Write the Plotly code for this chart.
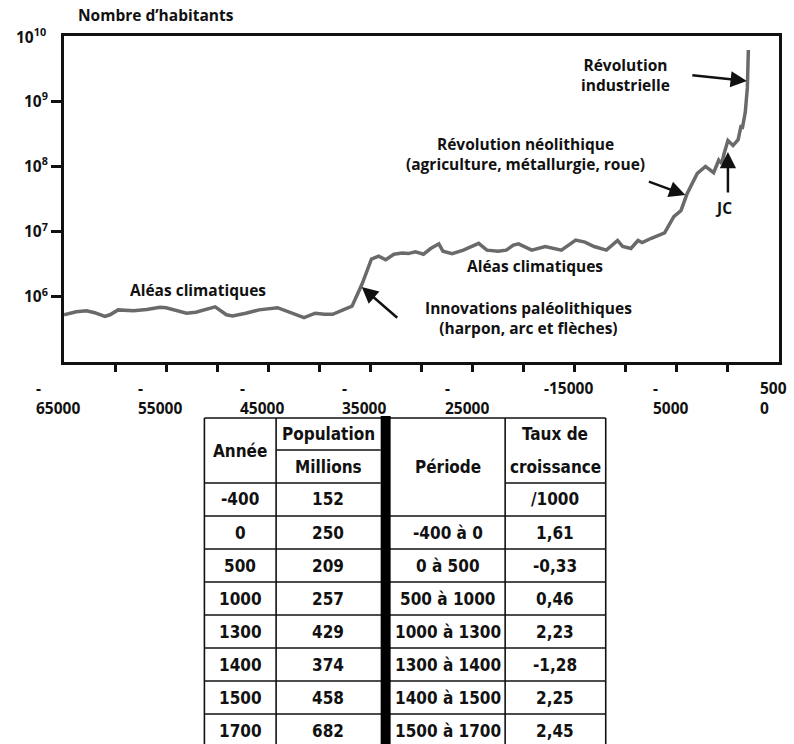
import plotly.graph_objects as go

# ---- Population curve: prehistoric estimates (year, inhabitants) ----
early_years = [-65000, -63800, -62800, -62000, -61000, -60500, -59700, -58200,
               -56900, -55600, -55000, -54000, -53000, -52100, -51100, -50200,
               -49100, -48500, -47200, -45900, -44100, -43300, -42600, -41500,
               -40400, -39500, -38700, -37800, -36800, -35800, -34900, -34200,
               -33500, -32700, -31900, -31300, -30600, -29800, -29100, -28300,
               -27900, -27000, -25900, -24400, -23600, -22500, -21700, -21000,
               -20500, -19200, -17900, -16300, -14900, -14000, -13100, -11900,
               -10800, -10300, -9500, -8800, -8400, -7500, -6200, -5300,
               -4600, -4000, -3000, -2200, -1400, -900, -600]
early_pop = [5.3e5, 5.9e5, 6.1e5, 5.7e5, 5.0e5, 5.3e5, 6.3e5, 6.1e5,
             6.4e5, 6.9e5, 6.8e5, 6.1e5, 5.6e5, 5.8e5, 6.4e5, 7.0e5,
             5.3e5, 5.1e5, 5.6e5, 6.3e5, 6.8e5, 6.1e5, 5.6e5, 4.8e5,
             5.6e5, 5.4e5, 5.4e5, 6.1e5, 7.2e5, 1.6e6, 3.8e6, 4.2e6,
             3.7e6, 4.5e6, 4.7e6, 4.6e6, 4.9e6, 4.5e6, 5.5e6, 6.5e6,
             5.0e6, 4.6e6, 5.2e6, 6.6e6, 5.2e6, 5.0e6, 5.2e6, 6.2e6,
             6.5e6, 5.2e6, 5.9e6, 5.2e6, 7.4e6, 6.9e6, 5.9e6, 5.2e6,
             7.3e6, 5.9e6, 5.5e6, 7.3e6, 6.8e6, 7.9e6, 9.6e6, 1.7e7,
             2.1e7, 3.8e7, 7.8e7, 1.0e8, 8.0e7, 1.25e8, 1.1e8]

# ---- Historical table ----
table_years = [-400, 0, 500, 1000, 1300, 1400, 1500, 1700]
table_pop_millions = [152, 250, 209, 257, 429, 374, 458, 682]
growth_rates = [None, 1.61, -0.33, 0.46, 2.23, -1.28, 2.25, 2.45]

# ---- Industrial era ----
recent_years = [1900, 2000]
recent_pop = [1.6e9, 6.1e9]

curve_years = early_years + table_years + recent_years
curve_pop = early_pop + [m * 1e6 for m in table_pop_millions] + recent_pop

# ---- Axes ----
x_tick_values = list(range(-60000, 1, 5000))
x_label_values = [-65000, -55000, -45000, -35000, -25000, -15000, -5000, 5000]
x_label_texts = ["-<br>65000", "-<br>55000", "-<br>45000", "-<br>35000",
                 "-<br>25000", "-15000", "-<br>5000", "500<br>0"]
y_tick_values = [1e6, 1e7, 1e8, 1e9]
y_tick_texts = ["10<sup>6</sup>", "10<sup>7</sup>", "10<sup>8</sup>", "10<sup>9</sup>"]

W, H = 794, 744
L, R, T, B = 64, 782, 36, 362


def px(x):
    return (x - L) / (R - L)


def py(y):
    return (B - y) / (B - T)


LABEL_FONT = dict(family="Open Sans", size=15.5, color="#111111", weight=700)
TABLE_FONT = dict(family="DejaVu Sans Condensed, DejaVu Sans", size=17,
                  color="#111111", weight="bold")

fig = go.Figure()
fig.add_trace(go.Scatter(
    x=curve_years, y=curve_pop, mode="lines",
    line=dict(color="#6a6a6a", width=3.5),
    showlegend=False, hoverinfo="skip",
))

annotations = []
shapes = []

# Title of the y axis
annotations.append(dict(text="Nombre d’habitants", xref="paper", yref="paper",
                        x=px(76), y=py(15), xanchor="left", yanchor="middle",
                        showarrow=False, font=LABEL_FONT))
# Top decade label (no tick on the frame corner)
annotations.append(dict(text="10<sup>10</sup>", xref="paper", yref="paper",
                        x=px(48), y=py(36), xanchor="right", yanchor="middle",
                        showarrow=False, font=LABEL_FONT))

# Wrapped x labels
for v, t in zip(x_label_values, x_label_texts):
    annotations.append(dict(text=t, xref="x", yref="paper", x=v, y=py(375),
                            xanchor="center", yanchor="top", align="left",
                            xshift=-6, showarrow=False, font=LABEL_FONT))

# Text notes on the chart
notes = [
    ("Aléas climatiques", 199, 290),
    ("Aléas climatiques", 537, 266),
    ("Innovations paléolithiques<br>(harpon, arc et flèches)", 530, 318),
    ("Révolution néolithique<br>(agriculture, métallurgie, roue)", 527, 154),
    ("Révolution<br>industrielle", 628, 75),
    ("JC", 726, 208),
]
for text, x, y in notes:
    annotations.append(dict(text=text, xref="paper", yref="paper", x=px(x), y=py(y),
                            xanchor="center", yanchor="middle", showarrow=False,
                            font=LABEL_FONT))

# Arrows pointing at the curve (head in data units, tail offset in pixels)
arrows = [
    (1850, 9.31, -56, -6),
    (-4166, 7.56, -38, -14),
    (0, 8.22, 0, 42),
    (-35850, 6.15, 37, 32),
]
for x, y, ax, ay in arrows:
    annotations.append(dict(text="", x=x, y=y, xref="x", yref="y", ax=ax, ay=ay,
                            showarrow=True, arrowhead=2, arrowsize=1.3,
                            arrowwidth=2.5, arrowcolor="#111111", standoff=0))

# ---- Table below the chart ----
col_x = [205, 277, 382, 392, 507, 608]
head_top, head_mid, head_bot = 418, 450, 483
row_h = 33
row_edges = [head_bot + i * row_h for i in range(len(table_years) + 1)]
table_bottom = row_edges[-1]


def hline(x0, x1, y, w=1.6):
    shapes.append(dict(type="line", xref="paper", yref="paper",
                       x0=px(x0), x1=px(x1), y0=py(y), y1=py(y),
                       line=dict(color="#111111", width=w)))


def vline(x, y0, y1, w=1.6):
    shapes.append(dict(type="line", xref="paper", yref="paper",
                       x0=px(x), x1=px(x), y0=py(y0), y1=py(y1),
                       line=dict(color="#111111", width=w)))


def cell_text(text, x0, x1, y0, y1):
    annotations.append(dict(text=text, xref="paper", yref="paper",
                            x=px((x0 + x1) / 2), y=py((y0 + y1) / 2),
                            xanchor="center", yanchor="middle", showarrow=False,
                            font=TABLE_FONT))


hline(col_x[0], col_x[5], head_top)
hline(col_x[1], col_x[2], head_mid)
hline(col_x[0], col_x[2], head_bot)
hline(col_x[4], col_x[5], head_bot)
for y in row_edges[1:]:
    hline(col_x[0], col_x[5], y)
for x in (col_x[0], col_x[1], col_x[4], col_x[5]):
    vline(x, head_top, table_bottom)
shapes.append(dict(type="rect", xref="paper", yref="paper",
                   x0=px(col_x[2]), x1=px(col_x[3]), y0=py(head_top - 2),
                   y1=py(table_bottom), fillcolor="#000000", line=dict(width=0)))

cell_text("Année", col_x[0], col_x[1], head_top, head_bot)
cell_text("Population", col_x[1], col_x[2], head_top, head_mid)
cell_text("Millions", col_x[1], col_x[2], head_mid, head_bot)
cell_text("Période", col_x[3], col_x[4], head_top, row_edges[1])
cell_text("Taux de", col_x[4], col_x[5], head_top, head_mid)
cell_text("croissance", col_x[4], col_x[5], head_mid, head_bot)

for i, (yr, pop, rate) in enumerate(zip(table_years, table_pop_millions, growth_rates)):
    y0, y1 = row_edges[i], row_edges[i + 1]
    cell_text(str(yr), col_x[0], col_x[1], y0, y1)
    cell_text(str(pop), col_x[1], col_x[2], y0, y1)
    if rate is None:
        cell_text("/1000", col_x[4], col_x[5], y0, y1)
    else:
        cell_text(f"{table_years[i - 1]} à {yr}", col_x[3], col_x[4], y0, y1)
        cell_text(f"{rate:.2f}".replace(".", ","), col_x[4], col_x[5], y0, y1)

fig.update_layout(
    width=W, height=H,
    margin=dict(l=L, r=W - R, t=T, b=H - B, pad=0),
    paper_bgcolor="white", plot_bgcolor="white",
    annotations=annotations, shapes=shapes,
    xaxis=dict(range=[-65000, 5000], tickvals=x_tick_values, showticklabels=False,
               ticks="outside", ticklen=7, tickwidth=2.5, tickcolor="#111111",
               showline=True, linewidth=3, linecolor="#111111", mirror=True,
               showgrid=False, zeroline=False, fixedrange=True),
    yaxis=dict(type="log", range=[5, 10], tickvals=y_tick_values, ticktext=y_tick_texts,
               ticks="outside", ticklen=10, tickwidth=2.5, tickcolor="#111111",
               tickfont=LABEL_FONT,
               showline=True, linewidth=3, linecolor="#111111", mirror=True,
               showgrid=False, zeroline=False, fixedrange=True),
)

fig.write_html("out.html")
